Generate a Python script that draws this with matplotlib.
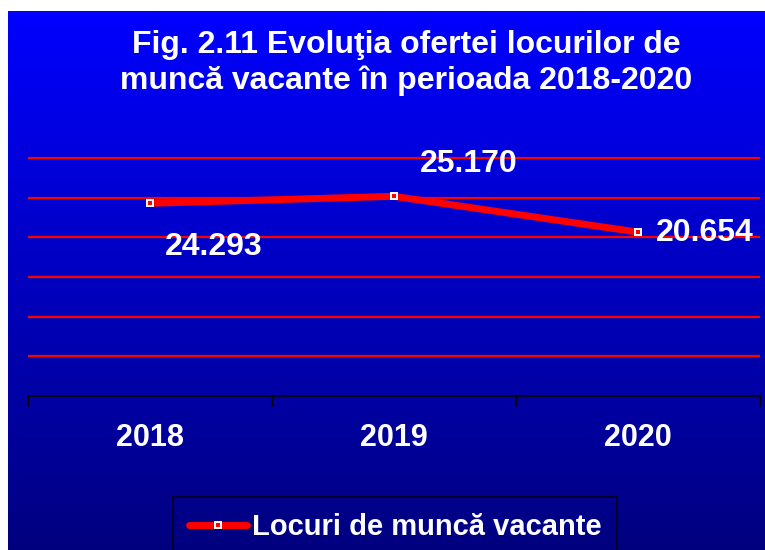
import numpy as np
import matplotlib
matplotlib.use("Agg")
import matplotlib.pyplot as plt

plt.rcParams['font.family'] = ['Liberation Sans', 'DejaVu Sans']

# date
ani = ["2018", "2019", "2020"]
locuri = [24293, 25170, 20654]
# pozitia etichetelor fata de puncte (pixeli)
offs = [(64, -44), (75, 32), (67, -1)]

W, H = 765, 550
fig = plt.figure(figsize=(W / 100, H / 100), dpi=100, facecolor='w')

# fundal cu degrade albastru
ax_bg = fig.add_axes([8 / W, 0, 1 - 8 / W, 1 - 11 / H])
grad = np.linspace(1.0, 0.0, 256).reshape(-1, 1)
blue = np.zeros((256, 1, 3))
blue[:, :, 2] = 0.5 + 0.5 * grad
ax_bg.imshow(blue, aspect='auto', extent=[0, 1, 0, 1])
ax_bg.axis('off')

# axa principala
y0, y1 = 396, 150
ymax = 30000 * (396 - y1) / (396 - 158)
ax = fig.add_axes([28 / W, (H - y0) / H, (760 - 28) / W, (y0 - y1) / H])
ax.patch.set_alpha(0)
ax.set_xlim(-0.5, 2.5)
ax.set_ylim(0, ymax)
ax.set_yticks([5000, 10000, 15000, 20000, 25000, 30000])
ax.yaxis.grid(True, color='#ff0000', linewidth=1.6)
ax.tick_params(axis='y', left=False, labelleft=False)
for s in ['top', 'right', 'left']:
    ax.spines[s].set_visible(False)
ax.spines['bottom'].set_color('k')
ax.spines['bottom'].set_linewidth(1.2)

x = np.arange(len(ani))
ax.set_xticks(x)
ax.set_xticklabels(ani)
ax.set_xticks([-0.5, 0.5, 1.5, 2.5], minor=True)
ax.tick_params(axis='x', which='major', length=0, pad=19.5, labelsize=22,
               labelcolor='w')
for lab in ax.get_xticklabels():
    lab.set_fontweight('bold')
ax.tick_params(axis='x', which='minor', length=7.5, width=1, color='k')

ax.plot(x, locuri, color='#ff0000', linewidth=5, marker='s', markersize=5,
        markerfacecolor='#ff0000', markeredgecolor='w', markeredgewidth=1.4,
        solid_capstyle='round', label='Locuri de muncă vacante', zorder=3)

for i, v in enumerate(locuri):
    ax.annotate(f"{v:,}".replace(",", "."), (x[i], v), xytext=offs[i],
                textcoords='offset pixels', ha='center', va='center',
                color='w', fontsize=23, fontweight='bold')

fig.text(406 / W, 1 - 63 / H,
         "Fig. 2.11 Evoluţia ofertei locurilor de\nmuncă vacante în perioada 2018-2020",
         ha='center', va='center', color='w', fontsize=23, fontweight='bold',
         linespacing=1.25)

leg = fig.legend(loc='upper center', bbox_to_anchor=(395 / W, 1 - 497 / H),
                 frameon=True, fancybox=False, fontsize=21, handlelength=2.0,
                 handletextpad=0.15, borderpad=0.55, borderaxespad=0)
leg.get_frame().set_facecolor('none')
leg.get_frame().set_edgecolor('k')
leg.get_frame().set_linewidth(1.2)
for t in leg.get_texts():
    t.set_color('w')
    t.set_fontweight('bold')

fig.savefig('out.png', dpi=100, facecolor='w')
